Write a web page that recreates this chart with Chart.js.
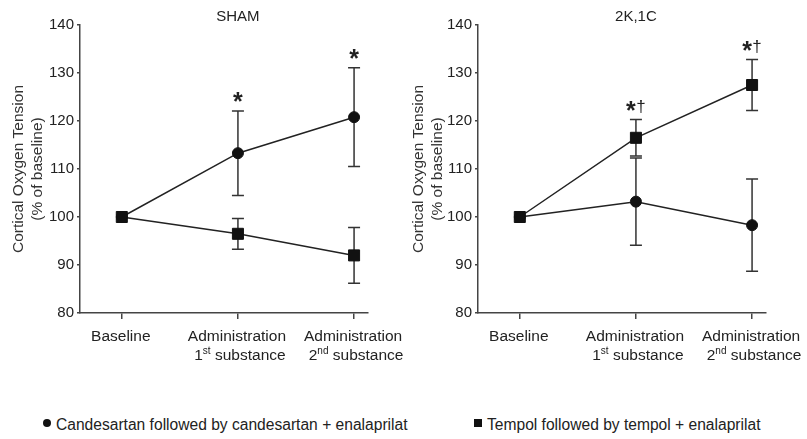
<!DOCTYPE html>
<html lang="en">
<head>
    <meta charset="UTF-8">
    <title>Cortical Oxygen Tension</title>
    <style>
        body { margin: 0; background: #fff; font-family: "Liberation Sans", Arial, sans-serif; color: #222; }
        .wrap { position: relative; width: 807px; height: 439px; overflow: hidden; }
        canvas { position: absolute; top: 0; }
        #shamChart { left: 0; }
        #kcChart { left: 400px; }
        .legend { position: absolute; top: 416px; font-size: 15.6px; line-height: 18px; white-space: nowrap; }
        .legend .mark { display: inline-block; width: 8px; height: 8px; background: #111; margin-right: 5px; vertical-align: 3px; }
        .legend .dot { border-radius: 50%; }
    </style>
</head>
<body>
<div class="wrap">
    <canvas id="shamChart" width="410" height="375"></canvas>
    <canvas id="kcChart" width="407" height="375"></canvas>
    <div class="legend" style="left:43px"><span class="mark dot"></span>Candesartan followed by candesartan + enalaprilat</div>
    <div class="legend" style="left:474px"><span class="mark"></span>Tempol followed by tempol + enalaprilat</div>
</div>
<script src="https://cdn.jsdelivr.net/npm/chart.js"></script>
<script>
// categories (x positions 0,1,2)
const categories = ['Baseline', 'Administration', 'Administration'];
const ordNum = ['', '1', '2'];
const ordSup = ['', 'st', 'nd'];
const ordRest = ['', ' substance', ' substance'];
const yTicks = [80, 90, 100, 110, 120, 130, 140];

// SHAM
const shamCand = [100, 113.3, 120.8];
const shamCandErr = [0, 8.8, 10.3];
const shamTemp = [100, 96.5, 92.0];
const shamTempErr = [0, 3.2, 5.8];
const shamMarks = ['', '*', '*'];

// 2K,1C
const kcCand = [100, 103.2, 98.3];
const kcCandErr = [0, 9.1, 9.6];
const kcTemp = [100, 116.5, 127.5];
const kcTempErr = [0, 3.8, 5.3];
const kcMarks = ['', '*†', '*†'];

const FONT = '"Liberation Sans", Arial, sans-serif';
const INK = '#222';
const AXIS = '#444';

function pts(vals) { return vals.map((v, i) => ({ x: i, y: v })); }

// error bars, significance marks, panel title and two-line x labels
const extras = {
    id: 'extras',
    beforeDatasetsDraw(chart) {
        const ctx = chart.ctx, ys = chart.scales.y;
        ctx.save();
        ctx.strokeStyle = '#333';
        ctx.lineWidth = 1.5;
        chart.data.datasets.forEach((ds, di) => {
            const meta = chart.getDatasetMeta(di);
            ds.errors.forEach((e, i) => {
                if (!e) return;
                const x = meta.data[i].x;
                const top = ys.getPixelForValue(ds.data[i].y + e);
                const bot = ys.getPixelForValue(ds.data[i].y - e);
                ctx.beginPath();
                ctx.moveTo(x, top); ctx.lineTo(x, bot);
                ctx.moveTo(x - 6, top); ctx.lineTo(x + 6, top);
                ctx.moveTo(x - 6, bot); ctx.lineTo(x + 6, bot);
                ctx.stroke();
            });
        });
        ctx.restore();
    },
    afterDraw(chart, args, opts) {
        const ctx = chart.ctx, xs = chart.scales.x, ys = chart.scales.y;
        const area = chart.chartArea;
        ctx.save();
        ctx.fillStyle = INK;

        // title
        ctx.font = '15px ' + FONT;
        ctx.textAlign = 'center';
        ctx.textBaseline = 'middle';
        ctx.fillText(opts.title, xs.getPixelForValue(1), 17);

        // * and † above highest error bar
        ctx.textBaseline = 'alphabetic';
        opts.marks.forEach((m, i) => {
            if (!m) return;
            let top = Infinity;
            chart.data.datasets.forEach(ds => {
                top = Math.min(top, ys.getPixelForValue(ds.data[i].y + ds.errors[i]));
            });
            const cy = top - 14;
            const x = xs.getPixelForValue(i);
            const dx = m.length > 1 ? -5 : 0;
            ctx.font = 'bold 25px ' + FONT;
            const st = ctx.measureText('*');
            const base = cy + (st.actualBoundingBoxAscent - st.actualBoundingBoxDescent) / 2;
            const starTop = base - st.actualBoundingBoxAscent;
            ctx.fillText('*', x + dx, base);
            if (m.length > 1) {
                ctx.font = '17px ' + FONT;
                const dt = ctx.measureText('†');
                ctx.fillText('†', x + 5, starTop - 1 + dt.actualBoundingBoxAscent);
            }
        });

        // x labels
        categories.forEach((c, i) => {
            const x = xs.getPixelForValue(i);
            ctx.font = '15.5px ' + FONT;
            ctx.textAlign = 'center';
            ctx.fillText(c, x - 1, area.bottom + 28);
            if (!ordNum[i]) return;
            ctx.textAlign = 'left';
            ctx.font = '15.5px ' + FONT;
            const wn = ctx.measureText(ordNum[i]).width;
            const wr = ctx.measureText(ordRest[i]).width;
            ctx.font = '10px ' + FONT;
            const ws = ctx.measureText(ordSup[i]).width;
            let sx = x + 2 - (wn + ws + wr) / 2;
            const by = area.bottom + 47;
            ctx.font = '15.5px ' + FONT;
            ctx.fillText(ordNum[i], sx, by);
            sx += wn;
            ctx.font = '10px ' + FONT;
            ctx.fillText(ordSup[i], sx, by - 6);
            sx += ws;
            ctx.font = '15.5px ' + FONT;
            ctx.fillText(ordRest[i], sx, by);
        });
        ctx.restore();
    }
};

function makeChart(id, title, cand, candErr, temp, tempErr, marks, yWidth, rightPad) {
    const ctx = document.getElementById(id).getContext('2d');
    return new Chart(ctx, {
        type: 'line',
        data: {
            datasets: [{
                label: 'Tempol followed by tempol + enalaprilat',
                data: pts(temp),
                errors: tempErr,
                order: 0,
                borderColor: INK,
                borderWidth: 1.5,
                pointStyle: 'rect',
                pointRadius: 7.8,
                pointBackgroundColor: '#111',
                pointBorderColor: '#111',
                pointBorderWidth: 1,
                tension: 0
            }, {
                label: 'Candesartan followed by candesartan + enalaprilat',
                data: pts(cand),
                errors: candErr,
                order: 1,
                borderColor: INK,
                borderWidth: 1.5,
                pointStyle: 'circle',
                pointRadius: 5.5,
                pointBackgroundColor: '#111',
                pointBorderColor: '#111',
                pointBorderWidth: 1,
                tension: 0
            }]
        },
        options: {
            responsive: false,
            animation: false,
            layout: { padding: { left: 0, top: 25, right: rightPad, bottom: 0 } },
            plugins: {
                legend: { display: false },
                tooltip: { enabled: false },
                extras: { title: title, marks: marks }
            },
            scales: {
                x: {
                    type: 'linear',
                    min: -0.36,
                    max: 2.12,
                    afterBuildTicks: s => { s.ticks = categories.map((c, i) => ({ value: i })); },
                    afterFit: s => { s.height = 62; },
                    ticks: { display: false },
                    grid: { drawOnChartArea: false, drawTicks: true, tickLength: 6, color: AXIS, lineWidth: 1.5 },
                    border: { display: true, color: AXIS, width: 1.5 }
                },
                y: {
                    min: 80,
                    max: 140,
                    afterBuildTicks: s => { s.ticks = yTicks.map(v => ({ value: v })); },
                    afterFit: s => { s.width = yWidth; },
                    ticks: { color: INK, padding: 3, font: { family: FONT, size: 15 } },
                    grid: { drawOnChartArea: false, drawTicks: true, tickLength: 3, color: AXIS, lineWidth: 1.5 },
                    border: { display: true, color: AXIS, width: 1.5 },
                    title: {
                        display: true,
                        text: ['Cortical Oxygen Tension', '(% of baseline)'],
                        color: '#333',
                        padding: { top: 9, bottom: 0 },
                        font: { family: FONT, size: 15.5, lineHeight: 1.22 }
                    }
                }
            }
        },
        plugins: [extras]
    });
}

makeChart('shamChart', 'SHAM', shamCand, shamCandErr, shamTemp, shamTempErr, shamMarks, 80, 42);
makeChart('kcChart', '2K,1C', kcCand, kcCandErr, kcTemp, kcTempErr, kcMarks, 78, 41);
</script>
</body>
</html>
